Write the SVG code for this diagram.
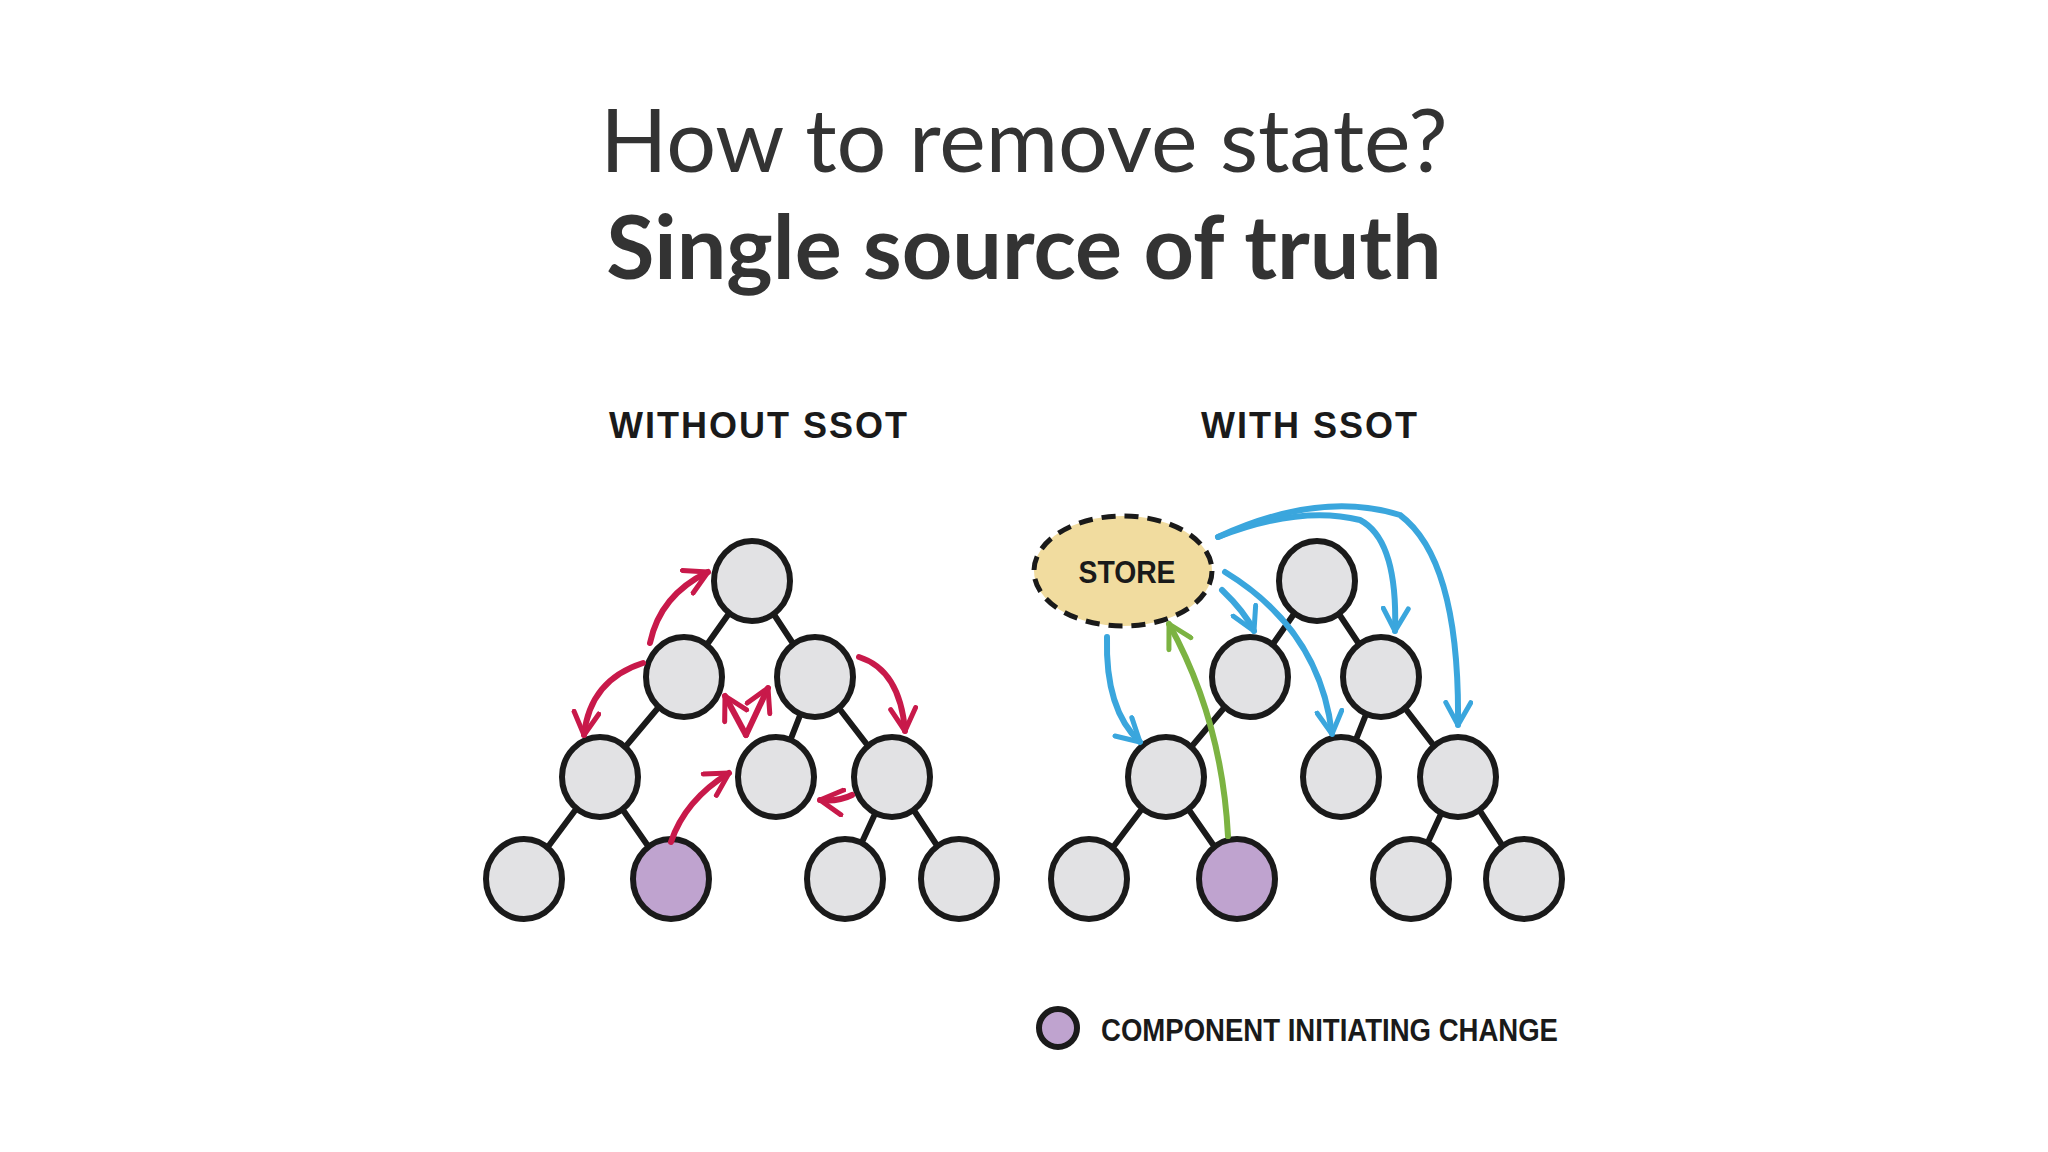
<svg xmlns="http://www.w3.org/2000/svg" width="2048" height="1152" viewBox="0 0 2048 1152">
<style>
.n{fill:#e2e2e4;stroke:#1a1a1a;stroke-width:6}
.p{fill:#bfa3cf;stroke:#1a1a1a;stroke-width:6}
.e{stroke:#1a1a1a;stroke-width:6;fill:none;stroke-linecap:round}
.r{stroke:#c8194a;stroke-width:6;fill:none;stroke-linecap:round}
.b{stroke:#3aa6dd;stroke-width:6;fill:none;stroke-linecap:round}
.g{stroke:#7cb342;stroke-width:6;fill:none;stroke-linecap:round}
.h{font-family:Lato,"Liberation Sans",sans-serif;fill:#333;text-anchor:middle}
.lab{font-family:"Liberation Sans",sans-serif;font-weight:bold;fill:#1a1a1a}
</style>
<defs>
<marker id="mr" viewBox="0 0 12 12" refX="10" refY="6" markerWidth="5" markerHeight="5" orient="auto" markerUnits="strokeWidth"><path d="M1,1 L10,6 L1,11" fill="none" stroke="#c8194a" stroke-width="2" stroke-linecap="round" stroke-linejoin="round"/></marker>
<marker id="mb" viewBox="0 0 12 12" refX="10" refY="6" markerWidth="5" markerHeight="5" orient="auto" markerUnits="strokeWidth"><path d="M1,1 L10,6 L1,11" fill="none" stroke="#3aa6dd" stroke-width="2" stroke-linecap="round" stroke-linejoin="round"/></marker>
<marker id="mg" viewBox="0 0 12 12" refX="10" refY="6" markerWidth="5" markerHeight="5" orient="auto" markerUnits="strokeWidth"><path d="M1,1 L10,6 L1,11" fill="none" stroke="#7cb342" stroke-width="2" stroke-linecap="round" stroke-linejoin="round"/></marker>
</defs>
<rect width="2048" height="1152" fill="#fff"/>
<text class="h" x="1024" y="172" font-size="88">How to remove state?</text>
<text class="h" x="1024" y="279" font-size="88" font-weight="bold">Single source of truth</text>
<text class="lab" x="759" y="438" font-size="36" text-anchor="middle" letter-spacing="2">WITHOUT SSOT</text>
<text class="lab" x="1310" y="438" font-size="36" text-anchor="middle" letter-spacing="2">WITH SSOT</text>

<g id="edges">
<path class="e" d="M752,581 L684,677 M752,581 L815,677 M684,677 L600,777 M815,677 L776,777 M815,677 L892,777 M600,777 L524,879 M600,777 L671,879 M892,777 L845,879 M892,777 L959,879"/>
<path class="e" d="M1317,581 L1250,677 M1317,581 L1381,677 M1250,677 L1166,777 M1381,677 L1341,777 M1381,677 L1458,777 M1166,777 L1089,879 M1166,777 L1237,879 M1458,777 L1411,879 M1458,777 L1524,879"/>
</g>

<g id="left-nodes">
<ellipse id="l0" class="n" cx="752" cy="581" rx="38" ry="40"/>
<ellipse id="l1" class="n" cx="684" cy="677" rx="38" ry="40"/>
<ellipse id="l2" class="n" cx="815" cy="677" rx="38" ry="40"/>
<ellipse id="l3" class="n" cx="600" cy="777" rx="38" ry="40"/>
<ellipse id="l4" class="n" cx="776" cy="777" rx="38" ry="40"/>
<ellipse id="l5" class="n" cx="892" cy="777" rx="38" ry="40"/>
<ellipse id="l6" class="n" cx="524" cy="879" rx="38" ry="40"/>
<ellipse id="l7" class="p" cx="671" cy="879" rx="38" ry="40"/>
<ellipse id="l8" class="n" cx="845" cy="879" rx="38" ry="40"/>
<ellipse id="l9" class="n" cx="959" cy="879" rx="38" ry="40"/>
</g>
<g id="right-nodes">
<ellipse id="r0" class="n" cx="1317" cy="581" rx="38" ry="40"/>
<ellipse id="r1" class="n" cx="1250" cy="677" rx="38" ry="40"/>
<ellipse id="r2" class="n" cx="1381" cy="677" rx="38" ry="40"/>
<ellipse id="r3" class="n" cx="1166" cy="777" rx="38" ry="40"/>
<ellipse id="r4" class="n" cx="1341" cy="777" rx="38" ry="40"/>
<ellipse id="r5" class="n" cx="1458" cy="777" rx="38" ry="40"/>
<ellipse id="r6" class="n" cx="1089" cy="879" rx="38" ry="40"/>
<ellipse id="r7" class="p" cx="1237" cy="879" rx="38" ry="40"/>
<ellipse id="r8" class="n" cx="1411" cy="879" rx="38" ry="40"/>
<ellipse id="r9" class="n" cx="1524" cy="879" rx="38" ry="40"/>
</g>
<g id="store">
<ellipse cx="1123" cy="571" rx="89" ry="55" fill="#f1dc9f" stroke="#1a1a1a" stroke-width="5" stroke-dasharray="14 9"/>
<text class="lab" x="1127" y="583" font-size="32" text-anchor="middle" textLength="97" lengthAdjust="spacingAndGlyphs">STORE</text>
</g>

<g id="connectors">
<path class="r" marker-end="url(#mr)" d="M650,643 Q660,595 708,572"/>
<path class="r" marker-end="url(#mr)" d="M643,663 Q590,680 584,735"/>
<path class="r" marker-end="url(#mr)" d="M859,657 Q900,670 905,731"/>
<path class="r" marker-end="url(#mr)" d="M746,735 L725,696"/>
<path class="r" marker-end="url(#mr)" d="M746,735 L768,688"/>
<path class="r" marker-end="url(#mr)" d="M671,842 Q685,800 729,773"/>
<path class="r" marker-end="url(#mr)" d="M852,795 Q838,802 820,800"/>
<path class="b" marker-end="url(#mb)" d="M1107,637 Q1105,710 1140,742"/>
<path class="b" marker-end="url(#mb)" d="M1222,590 Q1245,612 1254,631"/>
<path class="b" marker-end="url(#mb)" d="M1225,572 Q1320,630 1332,734"/>
<path class="b" marker-end="url(#mb)" d="M1218,537 Q1300,505 1360,520 Q1398,540 1395,631"/>
<path class="b" marker-end="url(#mb)" d="M1218,537 Q1320,490 1400,515 Q1460,560 1458,725"/>
<path class="g" marker-end="url(#mg)" d="M1228,836 Q1222,720 1169,624"/>
</g>

<g id="legend">
<ellipse class="p" cx="1058" cy="1028" rx="19" ry="19"/>
<text class="lab" x="1101" y="1041" font-size="31" textLength="457" lengthAdjust="spacingAndGlyphs">COMPONENT INITIATING CHANGE</text>
</g>
</svg>
